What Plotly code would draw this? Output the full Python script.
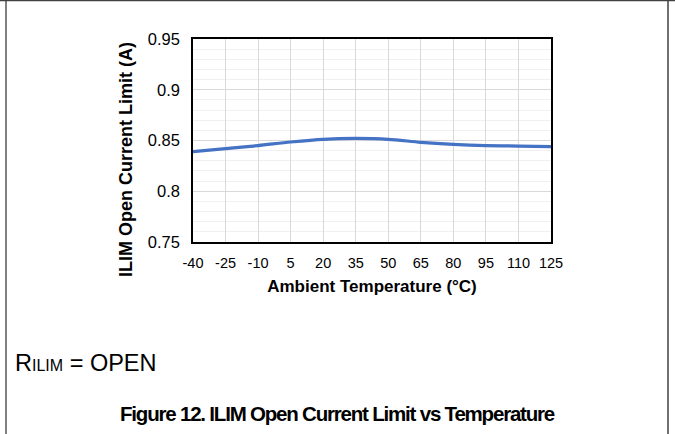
import plotly.graph_objects as go

temps = [-40, -25, -10, 5, 20, 35, 50, 65, 80, 95, 110, 125]
ilim_open = [0.839, 0.842, 0.845, 0.8485, 0.8512, 0.852, 0.8512, 0.8482, 0.8462, 0.845, 0.8445, 0.844]
x_ticks = temps
y_ticks = [0.75, 0.8, 0.85, 0.9, 0.95]
y_tick_text = ["0.75", "0.8", "0.85", "0.9", "0.95"]

W, H = 675, 434
L, R, T, B = 193, 551, 39, 242

fig = go.Figure()
fig.add_trace(go.Scatter(
    x=temps, y=ilim_open, mode="lines",
    line=dict(color="#4472C4", width=3.2, shape="spline", smoothing=0.8),
    hoverinfo="skip", showlegend=False,
))

font = "Liberation Sans, Arial, sans-serif"

def squeeze(s, ls):
    return f"<span style='letter-spacing:{ls}px'>{s}</span>"

fig.update_layout(
    width=W, height=H,
    margin=dict(l=L, r=W - R, t=T, b=H - B, pad=0),
    paper_bgcolor="white", plot_bgcolor="white",
    font=dict(family=font, color="black"),
    xaxis=dict(
        range=[-40, 125], tickvals=x_ticks, ticktext=[str(v) for v in x_ticks],
        tickfont=dict(size=14.5, family=font, color="black"),
        showgrid=True, gridcolor="#d9d9d9", gridwidth=1,
        showline=True, linecolor="black", linewidth=1.5, mirror=True,
        ticks="", zeroline=False, ticklabelstandoff=7,
        title=dict(text="<b>Ambient Temperature (°C)</b>", font=dict(size=17, family=font), standoff=10),
    ),
    yaxis=dict(
        range=[0.75, 0.95], tickvals=y_ticks, ticktext=y_tick_text,
        tickfont=dict(size=16.5, family=font, color="black"),
        showgrid=True, gridcolor="#d9d9d9", gridwidth=1,
        minor=dict(dtick=0.01, showgrid=True, gridcolor="#f0f0f0", gridwidth=1, ticks=""),
        showline=True, linecolor="black", linewidth=1.5, mirror=True,
        ticks="", zeroline=False, ticklabelstandoff=8,
    ),
)

def px_x(p):
    return (p - L) / (R - L)

def px_y(p):
    return (B - p) / (B - T)

# y-axis title (offset downward as in the reference)
fig.add_annotation(xref="paper", yref="paper", x=px_x(126), y=px_y(160),
                   text="<b>ILIM Open Current Limit (A)</b>", textangle=-90,
                   showarrow=False, xanchor="center", yanchor="middle",
                   font=dict(size=18, family=font, color="black"))

# outer frame lines
fig.add_shape(type="line", xref="paper", yref="paper", x0=px_x(6), x1=px_x(6), y0=px_y(0), y1=px_y(434),
              line=dict(color="#808080", width=2))
fig.add_shape(type="line", xref="paper", yref="paper", x0=px_x(668), x1=px_x(668), y0=px_y(0), y1=px_y(434),
              line=dict(color="#404040", width=1.5))
fig.add_shape(type="line", xref="paper", yref="paper", x0=px_x(0), x1=px_x(675), y0=px_y(0.5), y1=px_y(0.5),
              line=dict(color="#404040", width=1.5))

fig.add_annotation(xref="paper", yref="paper", x=px_x(13), y=px_y(363),
                   text="R<span style='font-size:16px'>ILIM</span> = OPEN",
                   showarrow=False, xanchor="left", yanchor="middle", font=dict(size=23.5, family=font, color="black"))
fig.add_annotation(xref="paper", yref="paper", x=px_x(337), y=px_y(413),
                   text="<b>" + squeeze("Figure 12. ILIM Open Current Limit vs Temperature", -1.2) + "</b>",
                   showarrow=False, xanchor="center", yanchor="middle", font=dict(size=20.5, family=font, color="black"))

fig.write_html("out.html", config={"displayModeBar": False},
               post_script="document.body.style.margin='0';")
